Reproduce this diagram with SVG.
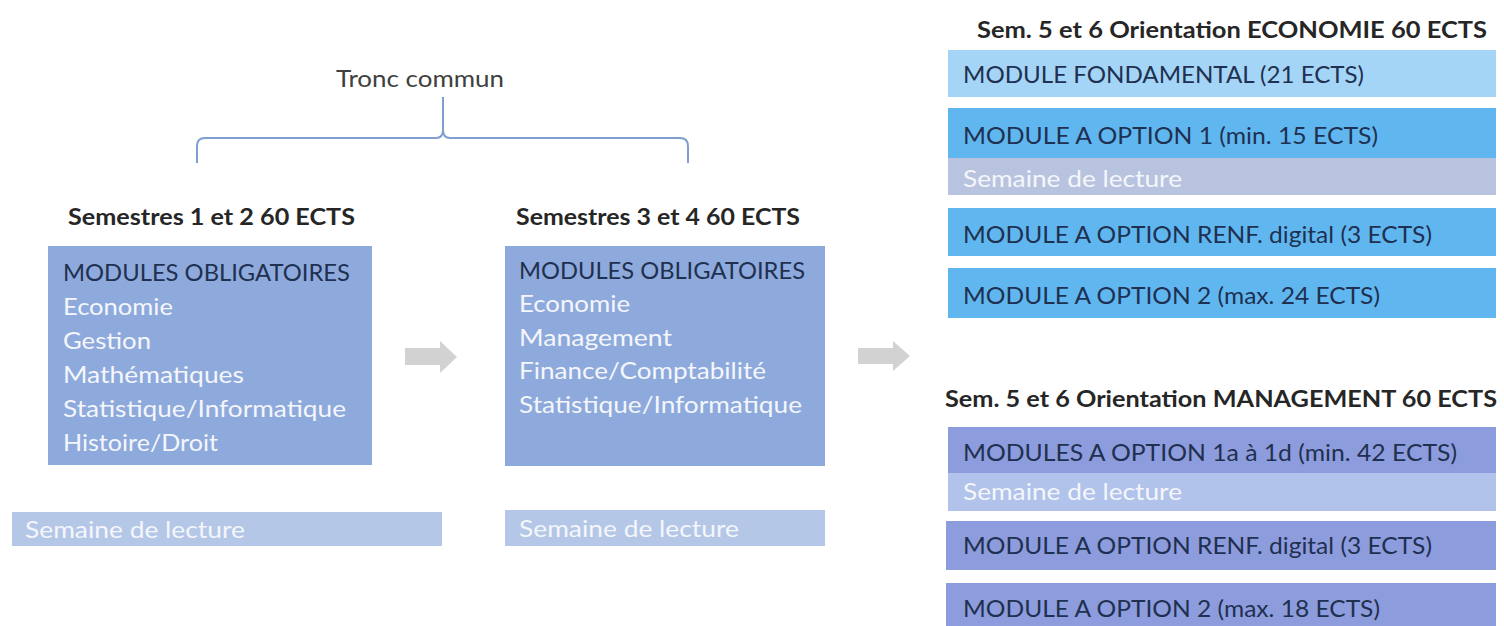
<svg xmlns="http://www.w3.org/2000/svg" width="1504" height="626" viewBox="0 0 1504 626">
<style>
text{font-family:Lato,"Open Sans","Liberation Sans",sans-serif}
.hd{font-size:22px;font-weight:bold;fill:#262626}
.lbl{font-size:23px;fill:#404040}
.dk{font-size:23.5px;fill:#1f3050}
.wt{font-size:23.5px;fill:#f4f6fb}
.box{fill:#8eaadc}
.sem{fill:#b4c7e7}
.eco1{fill:#a4d5f7}
.eco2{fill:#60b7f0}
.ecos{fill:#b8c4df}
.man{fill:#8d9cdd}
.mans{fill:#b1c3ea}
.arrow{fill:#d2d2d2}
.brace{fill:none;stroke:#7f9fcf;stroke-width:2}
</style>
<g id="tronc">
<text class="lbl" x="336" y="87" textLength="168" lengthAdjust="spacingAndGlyphs">Tronc commun</text>
</g>
<g id="connectors">
<path class="brace" d="M197,163 L197,146 Q197,138 205,138 L436,138 Q443,138 443,130 L443,97 M443,130 Q443,138 450,138 L680,138 Q688,138 688,146 L688,163"/>
<polygon class="arrow" points="405,348 440,348 440,341 457,357 440,373 440,365 405,365"/>
<polygon class="arrow" points="858,348 893,348 893,341 910,356 893,371 893,364 858,364"/>
</g>
<g id="sem12">
<text class="hd" x="68" y="225" textLength="287" lengthAdjust="spacingAndGlyphs">Semestres 1 et 2 60 ECTS</text>
<rect class="box" x="48" y="246" width="324" height="219"/>
<text class="dk" x="63" y="281" textLength="287" lengthAdjust="spacingAndGlyphs">MODULES OBLIGATOIRES</text>
<text class="wt" x="63" y="315" textLength="110" lengthAdjust="spacingAndGlyphs">Economie</text>
<text class="wt" x="63" y="349" textLength="88" lengthAdjust="spacingAndGlyphs">Gestion</text>
<text class="wt" x="63" y="383" textLength="181" lengthAdjust="spacingAndGlyphs">Mathématiques</text>
<text class="wt" x="63" y="417" textLength="283" lengthAdjust="spacingAndGlyphs">Statistique/Informatique</text>
<text class="wt" x="63" y="451" textLength="155" lengthAdjust="spacingAndGlyphs">Histoire/Droit</text>
</g>
<g id="sem12-lecture">
<rect class="sem" x="12" y="512" width="430" height="34"/>
<text class="wt" x="25" y="538" textLength="220" lengthAdjust="spacingAndGlyphs">Semaine de lecture</text>
</g>
<g id="sem34">
<text class="hd" x="516" y="225" textLength="284" lengthAdjust="spacingAndGlyphs">Semestres 3 et 4 60 ECTS</text>
<rect class="box" x="505" y="246" width="320" height="220"/>
<text class="dk" x="519" y="279" textLength="286" lengthAdjust="spacingAndGlyphs">MODULES OBLIGATOIRES</text>
<text class="wt" x="519" y="312" textLength="111" lengthAdjust="spacingAndGlyphs">Economie</text>
<text class="wt" x="519" y="346" textLength="153" lengthAdjust="spacingAndGlyphs">Management</text>
<text class="wt" x="519" y="379" textLength="247" lengthAdjust="spacingAndGlyphs">Finance/Comptabilité</text>
<text class="wt" x="519" y="413" textLength="283" lengthAdjust="spacingAndGlyphs">Statistique/Informatique</text>
</g>
<g id="sem34-lecture">
<rect class="sem" x="505" y="510" width="320" height="36"/>
<text class="wt" x="519" y="537" textLength="220" lengthAdjust="spacingAndGlyphs">Semaine de lecture</text>
</g>
<g id="eco">
<text class="hd" x="977" y="38" textLength="510" lengthAdjust="spacingAndGlyphs">Sem. 5 et 6 Orientation ECONOMIE 60 ECTS</text>
<rect class="eco1" x="948" y="50" width="548" height="47"/>
<text class="dk" x="963" y="83" textLength="401" lengthAdjust="spacingAndGlyphs">MODULE FONDAMENTAL (21 ECTS)</text>
<rect class="eco2" x="948" y="108" width="548" height="50"/>
<text class="dk" x="963" y="144" textLength="415" lengthAdjust="spacingAndGlyphs">MODULE A OPTION 1 (min. 15 ECTS)</text>
<rect class="ecos" x="948" y="158" width="548" height="37"/>
<text class="wt" x="963" y="187" textLength="219" lengthAdjust="spacingAndGlyphs">Semaine de lecture</text>
<rect class="eco2" x="948" y="208" width="548" height="48"/>
<text class="dk" x="963" y="243" textLength="469" lengthAdjust="spacingAndGlyphs">MODULE A OPTION RENF. digital (3 ECTS)</text>
<rect class="eco2" x="948" y="268" width="548" height="50"/>
<text class="dk" x="963" y="304" textLength="417" lengthAdjust="spacingAndGlyphs">MODULE A OPTION 2 (max. 24 ECTS)</text>
</g>
<g id="man">
<text class="hd" x="945" y="407" textLength="552" lengthAdjust="spacingAndGlyphs">Sem. 5 et 6 Orientation MANAGEMENT 60 ECTS</text>
<rect class="man" x="948" y="427" width="548" height="46"/>
<text class="dk" x="963" y="461" textLength="494" lengthAdjust="spacingAndGlyphs">MODULES A OPTION 1a à 1d (min. 42 ECTS)</text>
<rect class="mans" x="948" y="473" width="548" height="38"/>
<text class="wt" x="963" y="500" textLength="219" lengthAdjust="spacingAndGlyphs">Semaine de lecture</text>
<rect class="man" x="946" y="521" width="550" height="49"/>
<text class="dk" x="963" y="554" textLength="469" lengthAdjust="spacingAndGlyphs">MODULE A OPTION RENF. digital (3 ECTS)</text>
<rect class="man" x="946" y="583" width="550" height="43"/>
<text class="dk" x="963" y="617" textLength="417" lengthAdjust="spacingAndGlyphs">MODULE A OPTION 2 (max. 18 ECTS)</text>
</g>
</svg>
